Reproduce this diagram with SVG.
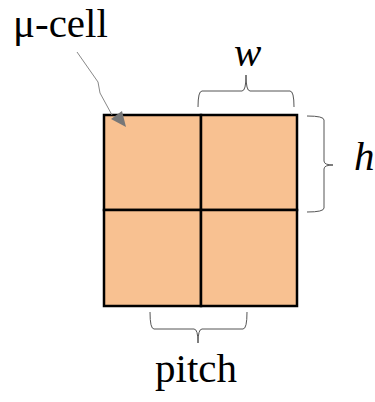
<svg xmlns="http://www.w3.org/2000/svg" width="375" height="402" viewBox="0 0 375 402">
<text x="13" y="37" font-family="Times New Roman" font-size="41">μ-cell</text>
<text x="234" y="66" font-family="Times New Roman" font-size="41" font-style="italic">w</text>
<text x="354" y="170" font-family="Times New Roman" font-size="41" font-style="italic">h</text>
<text x="155" y="382" font-family="Times New Roman" font-size="41">pitch</text>
<style>
.cell{fill:#f8c191;stroke:#000;stroke-width:2.5}
.brace{fill:none;stroke:#555;stroke-width:1}
</style>
<g id="grid">
<rect class="cell" x="104" y="115" width="97" height="95"/>
<rect class="cell" x="201" y="115" width="96" height="95"/>
<rect class="cell" x="104" y="210" width="97" height="96"/>
<rect class="cell" x="201" y="210" width="96" height="96"/>
</g>
<g id="connectors">
<path d="M77,52 L98,82 L100,93 L112,115" fill="none" stroke="#888" stroke-width="1"/>
<path d="M111,119 L122,111 L126,127 Z" fill="#777"/>
<path class="brace" d="M198,107 Q198,91 202,91 H242 Q246,91 246,75 Q246,91 250,91 H290 Q294,91 294,107"/>
<path class="brace" d="M307,116 Q324,116 324,120 V161 Q324,165 333,165 Q324,165 324,169 V208 Q324,212 307,212"/>
<path class="brace" d="M150,312 Q150,329 154,329 H194 Q198,329 198,343 Q198,329 202,329 H243 Q247,329 247,312"/>
</g>
</svg>
